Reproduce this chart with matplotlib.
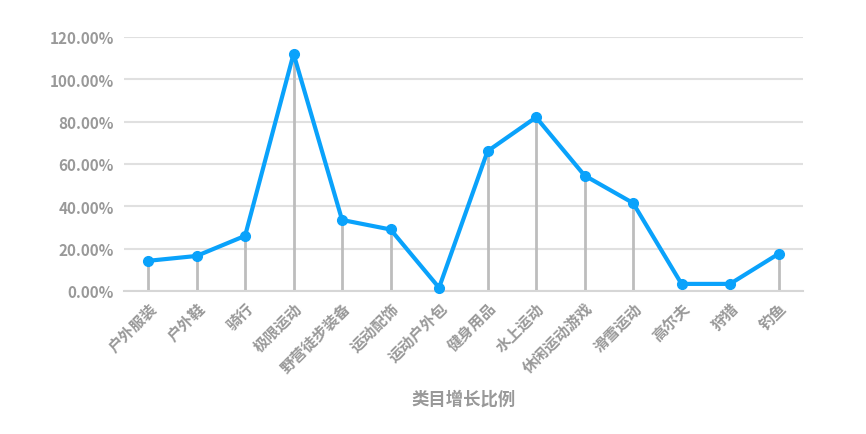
import matplotlib
matplotlib.use("Agg")
import matplotlib.pyplot as plt
from matplotlib.ticker import FuncFormatter

plt.rcParams['font.family'] = ['Noto Sans CJK SC', 'DejaVu Sans']

categories = ["户外服装", "户外鞋", "骑行", "极限运动", "野营徒步装备", "运动配饰", "运动户外包",
              "健身用品", "水上运动", "休闲运动游戏", "滑雪运动", "高尔夫", "狩猎", "钓鱼"]
values = [14.2, 16.5, 26.0, 112.0, 33.5, 29.0, 1.5, 66.0, 82.0, 54.5, 41.5, 3.3, 3.3, 17.5]
yticks = [0, 20, 40, 60, 80, 100, 120]
xlabel = "类目增长比例"

fig = plt.figure(figsize=(8.66, 4.35), dpi=100)
ax = fig.add_axes([0.143, 0.329, 0.784, 0.584])

x = list(range(len(categories)))
ax.vlines(x, 0, values, color="#bdbdbd", linewidth=2, zorder=2)
ax.plot(x, values, color="#0aa2fb", linewidth=3, marker="o", markersize=7,
        markerfacecolor="#0aa2fb", markeredgecolor="#0aa2fb", zorder=3, clip_on=False)

ax.set_xlim(-0.5, len(categories) - 0.5)
ax.set_ylim(0, 120)
ax.set_yticks(yticks)
ax.yaxis.set_major_formatter(FuncFormatter(lambda v, p: f"{v:.2f}%"))
ax.grid(axis="y", color="#e0e0e0", linewidth=1.5)
ax.set_axisbelow(True)
for s in ["top", "right", "left"]:
    ax.spines[s].set_visible(False)
ax.spines["bottom"].set_color("#d6d6d6")
ax.spines["bottom"].set_linewidth(1.5)
ax.tick_params(axis="both", length=0, colors="#999999", labelsize=11)
ax.tick_params(axis="y", pad=7)
ax.tick_params(axis="x", pad=6)
ax.set_xticks(x)
ax.set_xticklabels(categories, rotation=45, ha="right", rotation_mode="anchor",
                   fontweight="bold", color="#999999", fontsize=11)
for lab in ax.get_yticklabels():
    lab.set_fontweight("bold")
ax.set_xlabel(xlabel, fontsize=12.5, fontweight="bold", color="#999999", labelpad=10)

fig.savefig("out.png", dpi=100)
